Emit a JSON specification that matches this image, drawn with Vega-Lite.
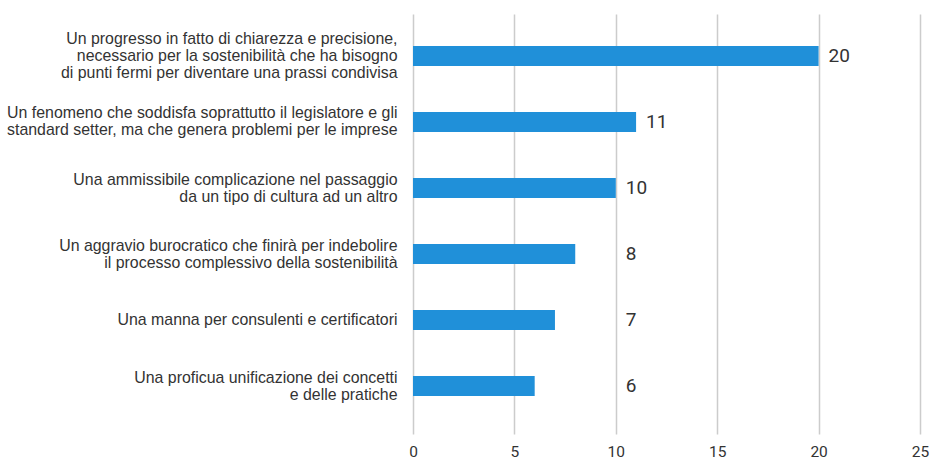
{
  "$schema": "https://vega.github.io/schema/vega-lite/v6.json",
  "width": 507,
  "height": 420,
  "autosize": {"type": "none"},
  "padding": {"left": 413, "top": 14, "right": 11, "bottom": 27},
  "background": "white",
  "config": {"view": {"stroke": null}},
  "data": {
    "values": [
      {"label": "Un progresso in fatto di chiarezza e precisione,|necessario per la sostenibilità che ha bisogno|di punti fermi per diventare una prassi condivisa", "value": 20},
      {"label": "Un fenomeno che soddisfa soprattutto il legislatore e gli|standard setter, ma che genera problemi per le imprese", "value": 11},
      {"label": "Una ammissibile complicazione nel passaggio|da un tipo di cultura ad un altro", "value": 10},
      {"label": "Un aggravio burocratico che finirà per indebolire|il processo complessivo della sostenibilità", "value": 8},
      {"label": "Una manna per consulenti e certificatori", "value": 7},
      {"label": "Una proficua unificazione dei concetti|e delle pratiche", "value": 6}
    ]
  },
  "transform": [{"calculate": "max(datum.value, 10)", "as": "labelPos"}],
  "encoding": {
    "y": {
      "field": "label",
      "type": "nominal",
      "sort": "-x",
      "title": null,
      "scale": {"paddingInner": 0, "paddingOuter": 0.18, "align": 0.375},
      "axis": {
        "domain": false,
        "ticks": false,
        "labelExpr": "split(datum.label, '|')",
        "labelFont": "Liberation Sans",
        "labelFontSize": 15.9,
        "labelLineHeight": 17,
        "labelColor": "#333333",
        "labelPadding": 16,
        "labelLimit": 420,
        "labelAlign": "right",
        "labelBaseline": "middle",
        "labelOffset": {
          "condition": [
            {"test": "length(split(datum.label, '|')) == 3", "value": -17},
            {"test": "length(split(datum.label, '|')) == 2", "value": -8.5}
          ],
          "value": 0
        }
      }
    }
  },
  "layer": [
    {
      "mark": {"type": "bar", "size": 20, "color": "#2090d9"},
      "encoding": {
        "x": {
          "field": "value",
          "type": "quantitative",
          "title": null,
          "scale": {"domain": [0, 25], "nice": false},
          "axis": {
            "values": [0, 5, 10, 15, 20, 25],
            "domain": false,
            "ticks": false,
            "grid": true,
            "gridColor": "#cccccc",
            "gridWidth": 1.5,
            "labelFont": "Roboto",
            "labelFontSize": 15.5,
            "labelColor": "#333333",
            "labelPadding": 10,
            "labelFlush": false
          }
        }
      }
    },
    {
      "mark": {"type": "text", "align": "left", "baseline": "middle", "dx": 10, "font": "Roboto", "fontSize": 19, "color": "#333333"},
      "encoding": {
        "x": {"field": "labelPos", "type": "quantitative"},
        "text": {"field": "value", "type": "quantitative"}
      }
    }
  ]
}
